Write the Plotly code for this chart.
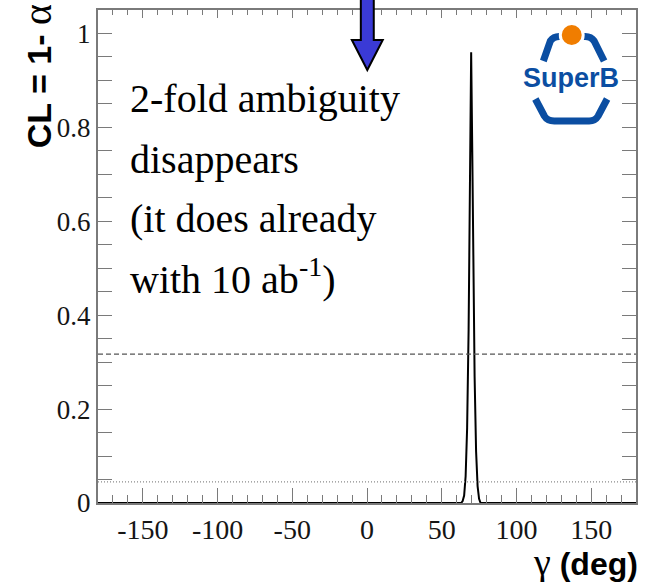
import plotly.graph_objects as go

# ---- data ----
gamma = [-180, 60, 63, 64, 65, 66, 67, 68, 69, 69.7, 70.5, 71, 72, 73, 74, 75, 76, 180]
cl = [0, 0, 0.0, 0.004, 0.016, 0.057, 0.16, 0.37, 0.69, 0.96, 0.73, 0.55, 0.27, 0.11, 0.036, 0.009, 0.0, 0]
ref_levels = [0.317, 0.045]          # 1 sigma (dashed) and 2 sigma (dotted)
x_ticks = [-150, -100, -50, 0, 50, 100, 150]
y_ticks = [0, 0.2, 0.4, 0.6, 0.8, 1]
note_lines = ["2-fold ambiguity", "disappears", "(it does already", "with 10 ab<sup>-1</sup>)"]

# plot frame in pixels (for placing decorations)
W_FIG, H_FIG = 646, 582
L, R, T, B = 98, 638, 10, 503
PW, PH = R - L, B - T


def px(x):
    return (x - L) / PW


def py(y):
    return (B - y) / PH


AX = "#7a7a7a"
SERIF = "Liberation Serif, Times New Roman, serif"
SANS = "Liberation Sans, Arial, sans-serif"

fig = go.Figure()
fig.add_trace(go.Scatter(x=gamma, y=cl, mode="lines",
                         line=dict(color="black", width=2), showlegend=False,
                         hoverinfo="skip"))
fig.add_trace(go.Scatter(x=[-180, 180], y=[ref_levels[0]] * 2, mode="lines", xaxis="x2",
                         line=dict(color="#555555", width=1.2, dash="5px,3px"),
                         showlegend=False, hoverinfo="skip"))
fig.add_trace(go.Scatter(x=[-180, 180], y=[ref_levels[1]] * 2, mode="lines", xaxis="x2",
                         line=dict(color="#8a8a8a", width=1.2, dash="1px,2px"),
                         showlegend=False, hoverinfo="skip"))

shapes = []
# blue arrow pointing down at gamma = 0
ax0 = 368.3
arrow = [(ax0 - 6.5, -3), (ax0 + 6.5, -3), (ax0 + 6.5, 40), (ax0 + 15.5, 40), (ax0, 70),
         (ax0 - 15.5, 40), (ax0 - 6.5, 40)]
path = "M " + " L ".join(f"{px(x):.5f},{py(y):.5f}" for x, y in arrow) + " Z"
shapes.append(dict(type="path", xref="paper", yref="paper", path=path,
                   fillcolor="#3a3ad6", line=dict(color="black", width=2), layer="above"))

# SuperB logo
BLUE = "#0b4ea2"


def poly(pts):
    s = f"M {px(pts[0][0]):.5f},{py(pts[0][1]):.5f}"
    for item in pts[1:]:
        if len(item) == 4:
            s += f" Q {px(item[0]):.5f},{py(item[1]):.5f} {px(item[2]):.5f},{py(item[3]):.5f}"
        else:
            s += f" L {px(item[0]):.5f},{py(item[1]):.5f}"
    return s


upper = [(545, 61), (552, 41), (555, 36.5, 561, 36.5), (587, 36.5), (593, 36.5, 596, 41), (606, 61)]
lower = [(537, 99), (546, 116), (549, 121, 556, 121), (591, 121), (597, 121, 600, 116), (609, 99)]
for p in (upper, lower):
    shapes.append(dict(type="path", xref="paper", yref="paper", path=poly(p),
                       line=dict(color=BLUE, width=7), layer="above"))
cx, cy = 573.5, 35
for r, col in ((13, "white"), (10, "#f07d00")):
    shapes.append(dict(type="circle", xref="paper", yref="paper",
                       x0=px(cx - r), x1=px(cx + r), y0=py(cy + r), y1=py(cy - r),
                       fillcolor=col, line=dict(width=0), layer="above"))

annotations = []
annotations.append(dict(text="<b>SuperB</b>", xref="paper", yref="paper", x=px(572.5), y=py(78),
                        xanchor="center", yanchor="middle", showarrow=False,
                        font=dict(family=SANS, size=27, color=BLUE)))

centers = [99, 159, 219, 276]
for t, c in zip(note_lines, centers):
    annotations.append(dict(text=t, xref="paper", yref="paper", x=px(128), y=py(c),
                            xanchor="left", yanchor="middle", showarrow=False,
                            font=dict(family=SERIF, size=40, color="black")))

annotations.append(dict(text="<b>CL = 1- </b><span style=\"font-family:Liberation Serif;font-size:40px\">α</span>",
                        xref="paper", yref="paper", x=px(38), y=py(2), textangle=-90,
                        xanchor="center", yanchor="top", showarrow=False,
                        font=dict(family=SANS, size=34, color="black")))
annotations.append(dict(text="<span style=\"font-family:Liberation Serif;font-size:38px\">γ</span><b> (deg)</b>",
                        xref="paper", yref="paper", x=px(642), y=py(562),
                        xanchor="right", yanchor="middle", showarrow=False,
                        font=dict(family=SANS, size=32, color="black")))

fig.update_layout(
    width=W_FIG, height=H_FIG,
    margin=dict(l=L, r=W_FIG - R, t=T, b=H_FIG - B, pad=0),
    paper_bgcolor="white", plot_bgcolor="white",
    shapes=shapes, annotations=annotations,
    xaxis=dict(range=[-180, 180], tickmode="array", tickvals=x_ticks,
               ticktext=[str(v) for v in x_ticks],
               ticks="inside", ticklen=15, tickwidth=1.3, tickcolor=AX,
               minor=dict(ticks="inside", ticklen=8, tickwidth=1.3, tickcolor=AX, dtick=10, tick0=0),
               showline=True, linecolor=AX, linewidth=2, mirror=True,
               showgrid=False, zeroline=False,
               tickfont=dict(family=SERIF, size=28, color="#151515")),
    xaxis2=dict(range=[-180, 180], overlaying="x", side="top", tickmode="array", tickvals=x_ticks,
                ticks="inside", ticklen=8, tickwidth=1.3, tickcolor=AX,
                minor=dict(ticks="inside", ticklen=5, tickwidth=1.3, tickcolor=AX, dtick=10, tick0=0),
                showticklabels=False, showline=False, showgrid=False, zeroline=False),
    yaxis=dict(range=[0, 1.05], tickmode="array", tickvals=y_ticks,
               ticktext=["0", "0.2", "0.4", "0.6", "0.8", "1"],
               ticks="inside", ticklen=14, tickwidth=1.3, tickcolor=AX,
               minor=dict(ticks="inside", ticklen=7, tickwidth=1.3, tickcolor=AX, dtick=0.05, tick0=0),
               showline=True, linecolor=AX, linewidth=2, mirror="allticks",
               showgrid=False, zeroline=False,
               tickfont=dict(family=SERIF, size=27, color="#151515")),
)

fig.write_html("out.html")
